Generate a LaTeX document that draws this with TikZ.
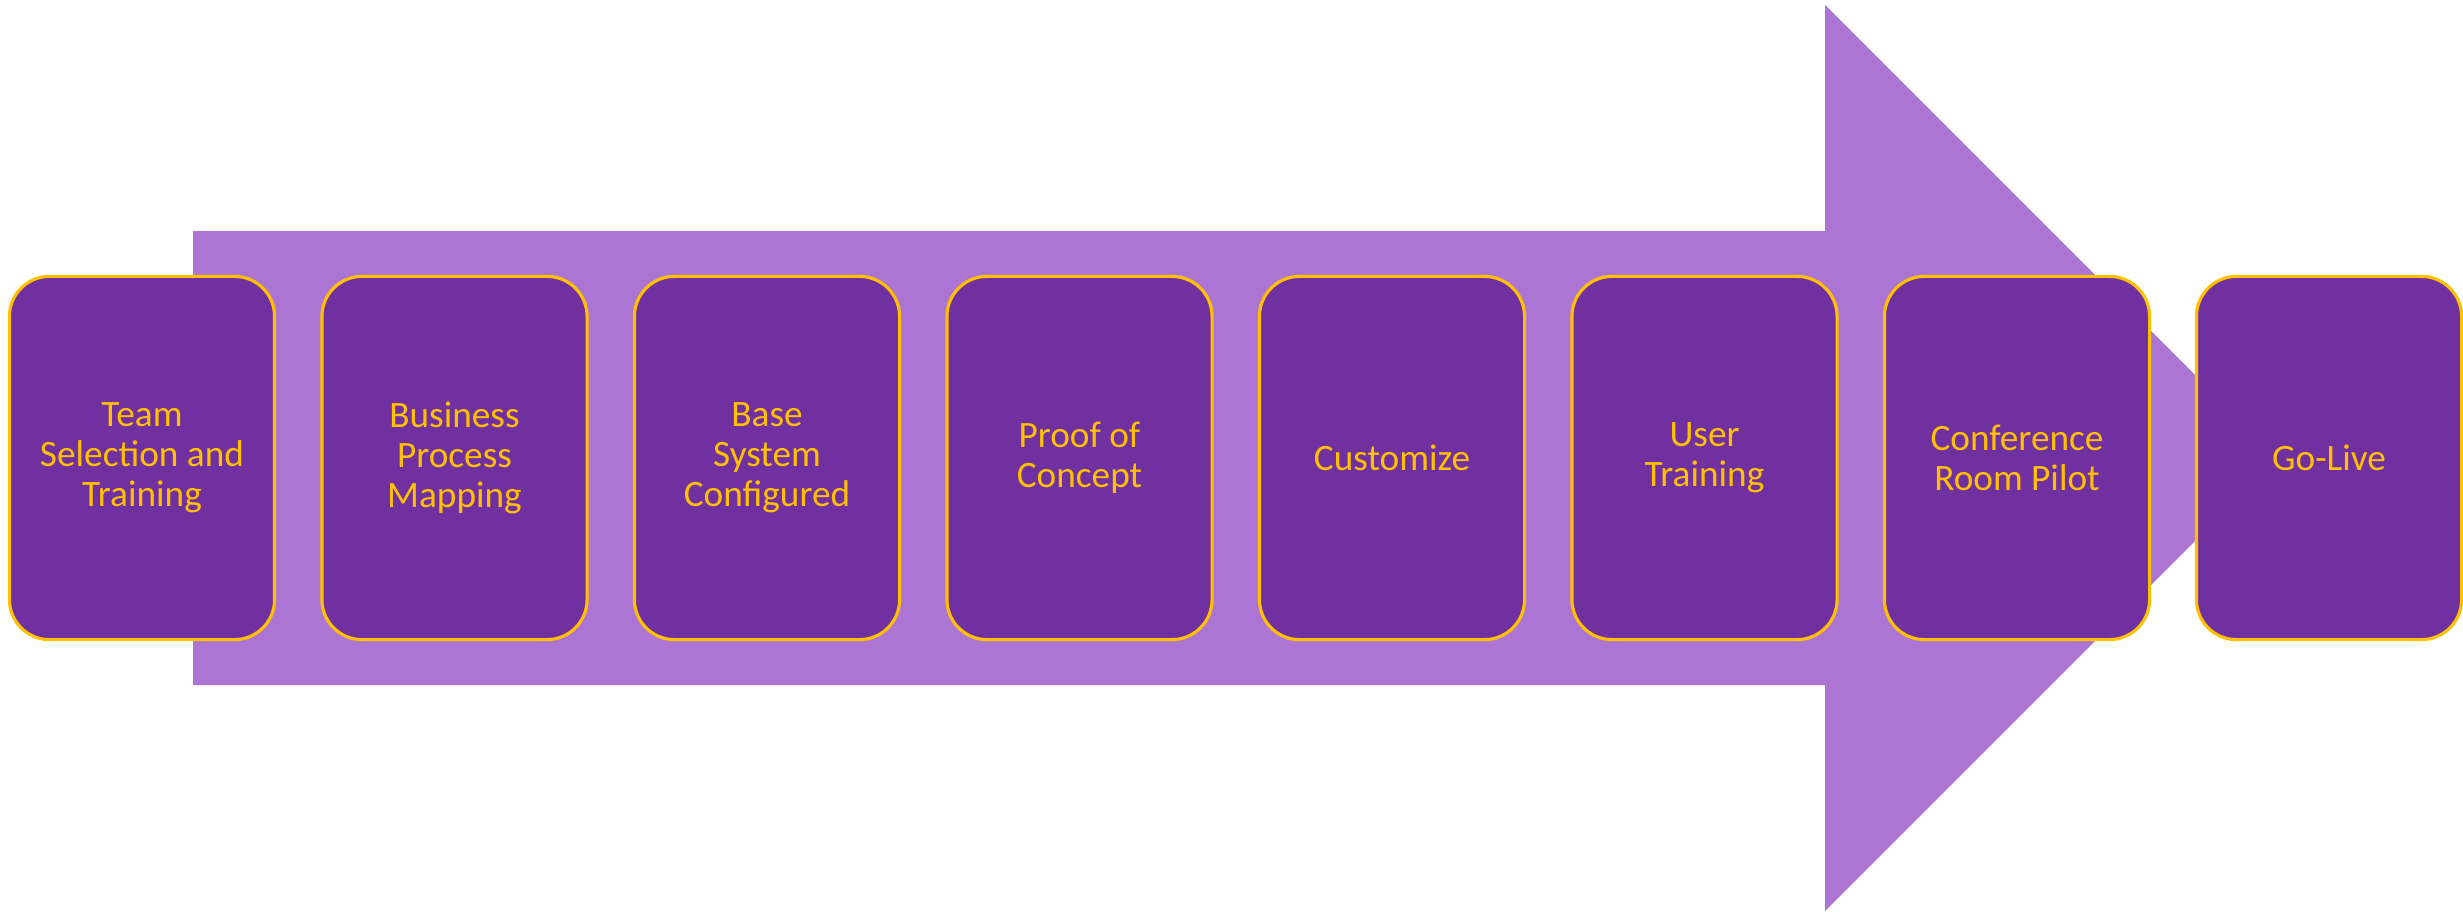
\documentclass[tikz,border=0pt]{standalone}
\usepackage{fontspec}
\setmainfont{Carlito}
\definecolor{stagefill}{HTML}{7030A0}
\definecolor{stagegold}{HTML}{FFC000}
\definecolor{arrowlilac}{RGB}{173,117,211}

\begin{document}
\begin{tikzpicture}[x=0.01cm, y=-0.01cm,
        stage/.style={rectangle, rounded corners=0.4cm, fill=stagefill, draw=stagegold,
            line width=0.9pt, minimum width=2.65cm, minimum height=3.63cm, inner sep=0pt,
            align=center, text=stagegold, font=\fontsize{10.6}{11.4}\selectfont}]
        \useasboundingbox (0,0) rectangle (2463,912);

        % Big arrow behind the stages
        \fill[arrowlilac] (193,231) -- (1825,231) -- (1825,5) -- (2278,458)
            -- (1825,911) -- (1825,685) -- (193,685) -- cycle;

        % Stages
        \node[stage] (team) at (142,458) {Team\\Selection and\\Training};
        \node[stage] (bpm) at (454.5,458) {Business\\Process\\Mapping};
        \node[stage] (base) at (767,458) {Base\\System\\Configured};
        \node[stage] (poc) at (1079.5,458) {Proof of\\Concept};
        \node[stage] (custom) at (1392,458) {Customize};
        \node[stage] (usertrain) at (1704.5,458) {User\\Training};
        \node[stage] (crp) at (2017,458) {Conference\\Room Pilot};
        \node[stage] (golive) at (2329,458) {Go-Live};
    \end{tikzpicture}
\end{document}
